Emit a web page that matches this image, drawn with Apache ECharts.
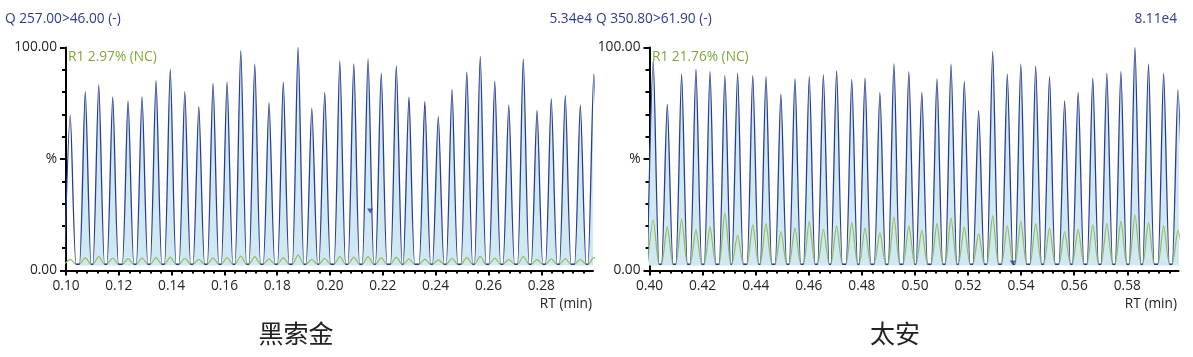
<!DOCTYPE html>
<html>
<head>
<meta charset="utf-8">
<script src="https://cdn.jsdelivr.net/npm/echarts@6/dist/echarts.min.js"></script>
<style>
html,body{margin:0;padding:0;background:#fff;}
#chart{width:1193px;height:357px;}
</style>
</head>
<body>
<div id="chart"></div>
<script>
// ---- Data (RT in min, intensity in %) ----
const leftTitle = "Q 257.00>46.00 (-)";
const leftScale = "5.34e4";
const leftRatio = "R1 2.97% (NC)";
const leftName = "黑索金";
const leftPeakTimes = [0.1016,0.1073,0.1124,0.1177,0.1235,0.1288,0.1341,0.1395,0.1450,0.1503,
  0.1557,0.1610,0.1662,0.1715,0.1769,0.1823,0.1879,0.1931,0.1980,0.2037,
  0.2090,0.2144,0.2194,0.2251,0.2299,0.2359,0.2410,0.2462,0.2518,0.2569,
  0.2624,0.2677,0.2732,0.2784,0.2838,0.2891,0.2948,0.2999];
const leftPeakHeights = [69.7,80.2,83.2,77.7,76.1,77.9,85.1,90.2,80.2,73.5,
  83.9,84.5,98.6,92.5,75.2,84.5,100,72.7,79.9,93.9,
  92.6,94.8,88.4,91.7,77.7,75.7,69.0,81.2,88.9,95.9,
  84.8,74.2,94.8,71.8,76.9,78.4,74.1,88.0];
const leftRefHeights = [5.0,5.8,6.2,5.6,5.3,5.6,5.8,6.0,5.5,5.0,
  5.7,5.8,6.5,6.2,5.2,5.8,7.0,5.0,5.5,6.2,
  6.0,6.2,5.8,6.0,5.2,5.1,4.8,5.5,5.9,6.3,
  5.6,5.0,6.2,4.9,5.2,5.3,5.0,5.8];
const leftMarker = [0.2152, 26.7];
const leftTicks = [0.10,0.12,0.14,0.16,0.18,0.20,0.22,0.24,0.26,0.28];

const rightTitle = "Q 350.80>61.90 (-)";
const rightScale = "8.11e4";
const rightRatio = "R1 21.76% (NC)";
const rightName = "太安";
const rightPeakTimes = [0.4014,0.4067,0.4121,0.4175,0.4228,0.4284,0.4332,0.4389,0.4439,0.4495,
  0.4548,0.4602,0.4655,0.4705,0.4762,0.4812,0.4868,0.4921,0.4977,0.5026,
  0.5083,0.5136,0.5186,0.5240,0.5293,0.5348,0.5399,0.5455,0.5507,0.5564,
  0.5615,0.5670,0.5723,0.5776,0.5829,0.5880,0.5937,0.5991];
const rightPeakHeights = [94.1,74.5,88.0,90.2,89.2,87.4,88.4,87.4,86.9,79.1,
  85.9,86.9,87.7,89.6,85.7,86.2,79.7,92.6,89.2,79.9,
  85.9,92.5,84.8,71.7,98.1,88.0,92.5,91.6,86.9,76.1,
  79.9,86.3,88.4,89.2,100,92.5,88.4,81.0];
const rightRefHeights = [22.6,19.6,23.0,18.2,19.6,25.9,15.9,20.5,21.0,17.5,
  19.0,22.0,18.5,20.0,21.5,19.0,17.0,24.0,20.0,18.0,
  21.0,23.5,19.5,16.5,24.5,20.0,22.0,21.0,19.0,17.5,
  18.5,20.5,21.0,22.0,25.0,21.5,20.0,18.0];
const rightMarker = [0.5369, 3.4];
const rightTicks = [0.40,0.42,0.44,0.46,0.48,0.50,0.52,0.54,0.56,0.58];

const yTickLabels = {0: "0.00", 50: "%", 100: "100.00"};

// ---- styling ----
const BLUE = '#2b3d8e', GREEN = '#94bd58', FILL = '#cfe8f1', GTEXT = '#7fa83c', TXT = '#222';
const FONT = '"Open Sans", "Noto Sans", sans-serif';
const FS = 13.7;
const BASE = 2.8, HW = 0.0022;

function trace(times, heights) {
  const pts = [];
  times.forEach((t, i) => {
    pts.push([t - HW, BASE]);
    pts.push([t, heights[i]]);
    pts.push([t + HW, BASE]);
  });
  return pts;
}

function xAxis(idx, min, max, ticks) {
  return {
    type: 'value', gridIndex: idx, min: min, max: max, interval: 0.02,
    axisLine: {show: true, onZero: false, lineStyle: {color: '#000', width: 2}},
    axisTick: {show: true, length: 5, lineStyle: {color: '#000', width: 2}, customValues: ticks},
    minorTick: {show: true, splitNumber: 5, length: 3, lineStyle: {color: '#000', width: 2}},
    axisLabel: {color: TXT, fontSize: FS, fontFamily: FONT, margin: 9, customValues: ticks,
      formatter: v => (Math.abs(v / 0.02 - Math.round(v / 0.02)) < 1e-6 ? v.toFixed(2) : '')},
    splitLine: {show: false}, minorSplitLine: {show: false}
  };
}
function yAxis(idx) {
  return {
    type: 'value', gridIndex: idx, min: 0, max: 100, interval: 50,
    axisLine: {show: true, lineStyle: {color: '#000', width: 2}},
    axisTick: {show: true, length: 6, lineStyle: {color: '#000', width: 2}},
    minorTick: {show: true, splitNumber: 5, length: 4, lineStyle: {color: '#000', width: 2}},
    axisLabel: {color: TXT, fontSize: FS, fontFamily: FONT, margin: 9,
      formatter: v => (yTickLabels[v] !== undefined ? yTickLabels[v] : '')},
    splitLine: {show: false}, minorSplitLine: {show: false}
  };
}
function seriesFor(idx, times, heights, refs, fillFrom, marker) {
  return [
    {type: 'line', xAxisIndex: idx, yAxisIndex: idx, data: trace(times.slice(fillFrom), heights.slice(fillFrom)),
     showSymbol: false, silent: true, smooth: 0.25, lineStyle: {width: 0, opacity: 0},
     areaStyle: {color: FILL, opacity: 1, origin: 2.2}, z: 1},
    {type: 'line', xAxisIndex: idx, yAxisIndex: idx, data: trace(times, refs),
     showSymbol: false, silent: true, smooth: 0.25, lineStyle: {color: GREEN, width: 1.2}, z: 2},
    {type: 'line', xAxisIndex: idx, yAxisIndex: idx, data: trace(times, heights),
     showSymbol: false, silent: true, smooth: 0.25, lineStyle: {color: BLUE, width: 1.3}, z: 3},
    {type: 'scatter', xAxisIndex: idx, yAxisIndex: idx, data: [marker],
     symbol: 'triangle', symbolRotate: 180, symbolSize: [6, 5], itemStyle: {color: BLUE}, z: 4}
  ];
}

const chart = echarts.init(document.getElementById('chart'), null, {renderer: 'canvas'});
const tf = FS + 'px ' + FONT;
chart.setOption({
  animation: false,
  backgroundColor: '#fff',
  grid: [
    {left: 66, top: 47.5, width: 527, height: 223},
    {left: 649.5, top: 47.5, width: 529, height: 223}
  ],
  xAxis: [xAxis(0, 0.10, 0.2996, leftTicks), xAxis(1, 0.40, 0.5993, rightTicks)],
  yAxis: [yAxis(0), yAxis(1)],
  series: [].concat(
    seriesFor(0, leftPeakTimes, leftPeakHeights, leftRefHeights, 1, leftMarker),
    seriesFor(1, rightPeakTimes, rightPeakHeights, rightRefHeights, 0, rightMarker)
  ),
  graphic: [
    {type: 'text', left: 5, top: 12, style: {text: leftTitle, fill: BLUE, font: tf}},
    {type: 'text', right: 601, top: 12, style: {text: leftScale, fill: BLUE, font: tf}},
    {type: 'text', left: 596, top: 12, style: {text: rightTitle, fill: BLUE, font: tf}},
    {type: 'text', right: 16, top: 12, style: {text: rightScale, fill: BLUE, font: tf}},
    {type: 'text', left: 68, top: 50, style: {text: leftRatio, fill: GTEXT, font: tf}},
    {type: 'text', left: 652, top: 50, style: {text: rightRatio, fill: GTEXT, font: tf}},
    {type: 'text', right: 601, top: 297, style: {text: 'RT (min)', fill: TXT, font: tf}},
    {type: 'text', right: 16, top: 297, style: {text: 'RT (min)', fill: TXT, font: tf}},
    {type: 'text', x: 296, y: 333, style: {text: leftName, fill: '#222', font: '25px "Noto Sans CJK SC"', align: 'center', verticalAlign: 'middle'}},
    {type: 'text', x: 895, y: 333, style: {text: rightName, fill: '#222', font: '25px "Noto Sans CJK SC"', align: 'center', verticalAlign: 'middle'}}
  ]
});
</script>
</body>
</html>
